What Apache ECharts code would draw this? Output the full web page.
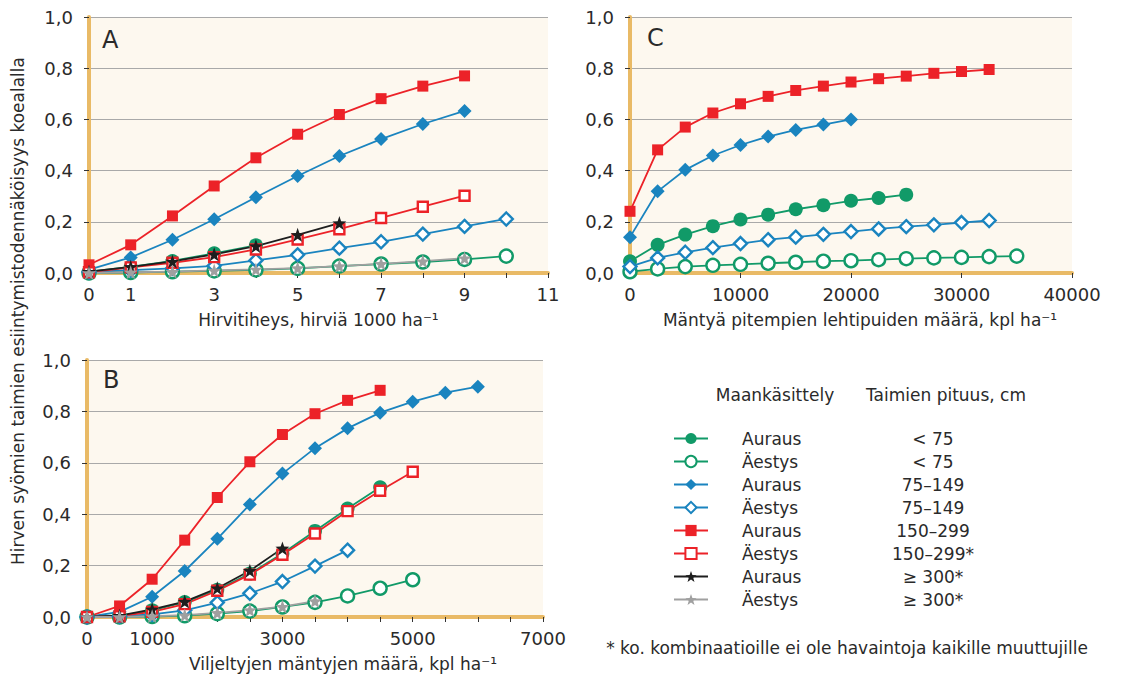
<!DOCTYPE html>
<html>
<head>
<meta charset="utf-8">
<script src="https://cdn.jsdelivr.net/npm/echarts@6/dist/echarts.min.js"></script>
<style>
  html, body { margin: 0; padding: 0; background: #fff; }
  #chart { width: 1122px; height: 678px; }
</style>
</head>
<body>
<div id="chart"></div>
<script>
// Panel A: hirvitiheys (hirviä / 1000 ha)
var xA = [0, 1, 2, 3, 4, 5, 6, 7, 8, 9, 10];
var aGreenFilled = [0.005, 0.024, 0.047, 0.077, 0.108];
var aGreenOpen   = [0.0, 0.002, 0.005, 0.008, 0.012, 0.018, 0.027, 0.035, 0.043, 0.053, 0.066];
var aBlueFilled  = [0.013, 0.061, 0.13, 0.21, 0.296, 0.379, 0.457, 0.523, 0.582, 0.633];
var aBlueOpen    = [0.004, 0.011, 0.018, 0.028, 0.049, 0.071, 0.097, 0.122, 0.152, 0.182, 0.211];
var aRedFilled   = [0.032, 0.11, 0.223, 0.34, 0.45, 0.542, 0.619, 0.681, 0.73, 0.77];
var aRedOpen     = [0.003, 0.022, 0.04, 0.062, 0.092, 0.131, 0.171, 0.215, 0.259, 0.302];
var aBlackStar   = [0.005, 0.024, 0.045, 0.073, 0.105, 0.149, 0.195];
var aGrayStar    = [0.0, 0.003, 0.005, 0.01, 0.014, 0.019, 0.027, 0.036, 0.046, 0.058];

// Panel B: viljeltyjen mäntyjen määrä
var xB = [0, 500, 1000, 1500, 2000, 2500, 3000, 3500, 4000, 4500, 5000, 5500, 6000];
var bGreenFilled = [0, 0.003, 0.026, 0.058, 0.106, 0.169, 0.247, 0.335, 0.422, 0.505];
var bGreenOpen   = [0, 0, 0.002, 0.005, 0.013, 0.023, 0.039, 0.057, 0.082, 0.112, 0.145];
var bBlueFilled  = [0, 0.02, 0.079, 0.179, 0.304, 0.438, 0.558, 0.657, 0.734, 0.795, 0.838, 0.873, 0.896];
var bBlueOpen    = [0, 0.003, 0.01, 0.026, 0.056, 0.092, 0.138, 0.198, 0.26];
var bRedFilled   = [0, 0.043, 0.147, 0.299, 0.465, 0.604, 0.71, 0.791, 0.843, 0.882];
var bRedOpen     = [0, 0.003, 0.02, 0.05, 0.102, 0.165, 0.242, 0.325, 0.412, 0.491, 0.565];
var bBlackStar   = [0, 0.005, 0.03, 0.06, 0.112, 0.18, 0.267];
var bGrayStar    = [0, 0, 0.003, 0.007, 0.016, 0.027, 0.04, 0.062];

// Panel C: mäntyä pitempien lehtipuiden määrä
var xC = [0, 2500, 5000, 7500, 10000, 12500, 15000, 17500, 20000, 22500, 25000, 27500, 30000, 32500, 35000];
var cGreenFilled = [0.046, 0.11, 0.15, 0.183, 0.209, 0.228, 0.249, 0.265, 0.282, 0.293, 0.306];
var cGreenOpen   = [0.005, 0.016, 0.025, 0.03, 0.034, 0.038, 0.042, 0.046, 0.048, 0.052, 0.056, 0.059, 0.061, 0.064, 0.066];
var cBlueFilled  = [0.14, 0.319, 0.403, 0.459, 0.5, 0.533, 0.559, 0.58, 0.6];
var cBlueOpen    = [0.025, 0.059, 0.081, 0.099, 0.115, 0.13, 0.14, 0.151, 0.162, 0.172, 0.181, 0.188, 0.197, 0.205];
var cRedFilled   = [0.241, 0.481, 0.57, 0.625, 0.661, 0.69, 0.713, 0.73, 0.746, 0.759, 0.769, 0.78, 0.787, 0.795];

// legend names: "käsittely pituus"
var names = ['Auraus < 75', 'Äestys < 75', 'Auraus 75–149', 'Äestys 75–149',
             'Auraus 150–299', 'Äestys 150–299*', 'Auraus ≥ 300*', 'Äestys ≥ 300*'];

var GREEN = '#119a68', BLUE = '#1a84bf', RED = '#ec2228', BLACK = '#1e1e1e', GRAY = '#a0a0a0';
var GOLD = '#e9ba66';
var FONT = 'DejaVu Sans';
var STAR = 'path://M50 0 L61.76 33.82 L97.55 34.55 L69.02 56.18 L79.39 90.45 L50 70 L20.61 90.45 L30.98 56.18 L2.45 34.55 L38.24 33.82 Z';

var styles = [
    {color: GREEN, symbol: 'circle', size: 14, open: false},
    {color: GREEN, symbol: 'circle', size: 13, open: true},
    {color: BLUE, symbol: 'diamond', size: 14, open: false},
    {color: BLUE, symbol: 'diamond', size: 13, open: true},
    {color: RED, symbol: 'rect', size: 11, open: false},
    {color: RED, symbol: 'rect', size: 10, open: true},
    {color: BLACK, symbol: STAR, size: 14, open: false},
    {color: GRAY, symbol: STAR, size: 14, open: false}
];

function mk(k, idx, xs, ys) {
    var s = styles[k];
    return {
        name: names[k],
        type: 'line',
        xAxisIndex: idx,
        yAxisIndex: idx,
        data: ys.map(function (v, i) { return [xs[i], v]; }),
        symbol: s.symbol,
        symbolSize: s.size,
        showAllSymbol: true,
        clip: false,
        lineStyle: {color: s.color, width: 1.8},
        itemStyle: s.open
            ? {color: '#fff', borderColor: s.color, borderWidth: 2.4}
            : {color: s.color, borderWidth: 0},
        emphasis: {disabled: true},
        animation: false
    };
}

function yFmt(v) { return v.toFixed(1).replace('.', ','); }

function xAxisOf(idx, max, interval, shown, name, namePad) {
    return {
        type: 'value', gridIndex: idx, min: 0, max: max, interval: interval,
        name: name, nameLocation: 'middle', nameGap: 38,
        nameTextStyle: {fontFamily: FONT, fontSize: 17, color: '#2a2a2a', padding: namePad || 0},
        axisLine: {show: true, onZero: false, lineStyle: {color: GOLD, width: 4}},
        axisTick: {show: true, length: 5, lineStyle: {color: '#333', width: 1}},
        axisLabel: {
            margin: 12, fontFamily: FONT, fontSize: 18, color: '#2a2a2a',
            formatter: function (v) { return shown.indexOf(v) >= 0 ? String(v) : ''; }
        },
        splitLine: {show: false}
    };
}

function yAxisOf(idx) {
    return {
        type: 'value', gridIndex: idx, min: 0, max: 1, interval: 0.2,
        axisLine: {show: true, onZero: false, lineStyle: {color: GOLD, width: 4}},
        axisTick: {show: true, length: 5, lineStyle: {color: '#333', width: 1}},
        axisLabel: {margin: 16, fontFamily: FONT, fontSize: 18, color: '#2a2a2a', formatter: yFmt},
        splitLine: {show: true, lineStyle: {color: '#a9a9a9', width: 1}}
    };
}

var chart = echarts.init(document.getElementById('chart'), null, {renderer: 'svg'});

var option = {
    backgroundColor: '#fff',
    animation: false,
    grid: [
        {left: 89, top: 17, width: 459, height: 256, show: true, backgroundColor: '#fdf8ef', borderWidth: 0},
        {left: 87, top: 360, width: 456, height: 257, show: true, backgroundColor: '#fdf8ef', borderWidth: 0},
        {left: 630, top: 17, width: 442, height: 256, show: true, backgroundColor: '#fdf8ef', borderWidth: 0}
    ],
    xAxis: [
        xAxisOf(0, 11, 1, [0, 1, 3, 5, 7, 9, 11], 'Hirvitiheys, hirviä 1000 ha⁻¹'),
        xAxisOf(1, 7000, 500, [0, 1000, 3000, 5000, 7000], 'Viljeltyjen mäntyjen määrä, kpl ha⁻¹', [0, 0, 0, 56]),
        xAxisOf(2, 40000, 10000, [0, 10000, 20000, 30000, 40000], 'Mäntyä pitempien lehtipuiden määrä, kpl ha⁻¹', [0, 0, 0, 18])
    ],
    yAxis: [yAxisOf(0), yAxisOf(1), yAxisOf(2)],
    legend: {
        data: names,
        orient: 'vertical',
        left: 668,
        top: 425,
        itemWidth: 34,
        itemHeight: 14,
        itemGap: 6,
        selectedMode: false,
        formatter: function (name) {
            var i = name.indexOf(' ');
            return '{p| }{a|' + name.slice(0, i) + '}{b|' + name.slice(i + 1) + '}';
        },
        textStyle: {
            fontFamily: FONT, fontSize: 17, color: '#2a2a2a',
            rich: {
                p: {width: 29},
                a: {width: 121, fontFamily: FONT, fontSize: 17, color: '#2a2a2a'},
                b: {width: 140, align: 'center', fontFamily: FONT, fontSize: 17, color: '#2a2a2a'}
            }
        }
    },
    graphic: [
        {type: 'text', x: 102, y: 28, style: {text: 'A', fontFamily: FONT, fontSize: 24, fill: '#2a2a2a'}},
        {type: 'text', x: 103, y: 368, style: {text: 'B', fontFamily: FONT, fontSize: 24, fill: '#2a2a2a'}},
        {type: 'text', x: 647, y: 26, style: {text: 'C', fontFamily: FONT, fontSize: 24, fill: '#2a2a2a'}},
        {type: 'text', x: 18, y: 311, rotation: Math.PI / 2,
         style: {text: 'Hirven syömien taimien esiintymistodennäköisyys koealalla', fontFamily: FONT, fontSize: 17,
                 fill: '#2a2a2a', align: 'center', verticalAlign: 'middle'}},
        {type: 'text', x: 775, y: 395, style: {text: 'Maankäsittely', fontFamily: FONT, fontSize: 17,
                 fill: '#2a2a2a', align: 'center', verticalAlign: 'middle'}},
        {type: 'text', x: 946, y: 395, style: {text: 'Taimien pituus, cm', fontFamily: FONT, fontSize: 17,
                 fill: '#2a2a2a', align: 'center', verticalAlign: 'middle'}},
        {type: 'text', x: 847, y: 648, style: {text: '* ko. kombinaatioille ei ole havaintoja kaikille muuttujille',
                 fontFamily: FONT, fontSize: 17, fill: '#2a2a2a', align: 'center', verticalAlign: 'middle'}}
    ],
    series: [
        mk(0, 0, xA, aGreenFilled), mk(1, 0, xA, aGreenOpen),
        mk(2, 0, xA, aBlueFilled), mk(3, 0, xA, aBlueOpen),
        mk(4, 0, xA, aRedFilled), mk(5, 0, xA, aRedOpen),
        mk(6, 0, xA, aBlackStar), mk(7, 0, xA, aGrayStar),

        mk(0, 1, xB, bGreenFilled), mk(1, 1, xB, bGreenOpen),
        mk(2, 1, xB, bBlueFilled), mk(3, 1, xB, bBlueOpen),
        mk(4, 1, xB, bRedFilled), mk(5, 1, xB, bRedOpen),
        mk(6, 1, xB, bBlackStar), mk(7, 1, xB, bGrayStar),

        mk(0, 2, xC, cGreenFilled), mk(1, 2, xC, cGreenOpen),
        mk(2, 2, xC, cBlueFilled), mk(3, 2, xC, cBlueOpen),
        mk(4, 2, xC, cRedFilled)
    ]
};
chart.setOption(option);
</script>
</body>
</html>
